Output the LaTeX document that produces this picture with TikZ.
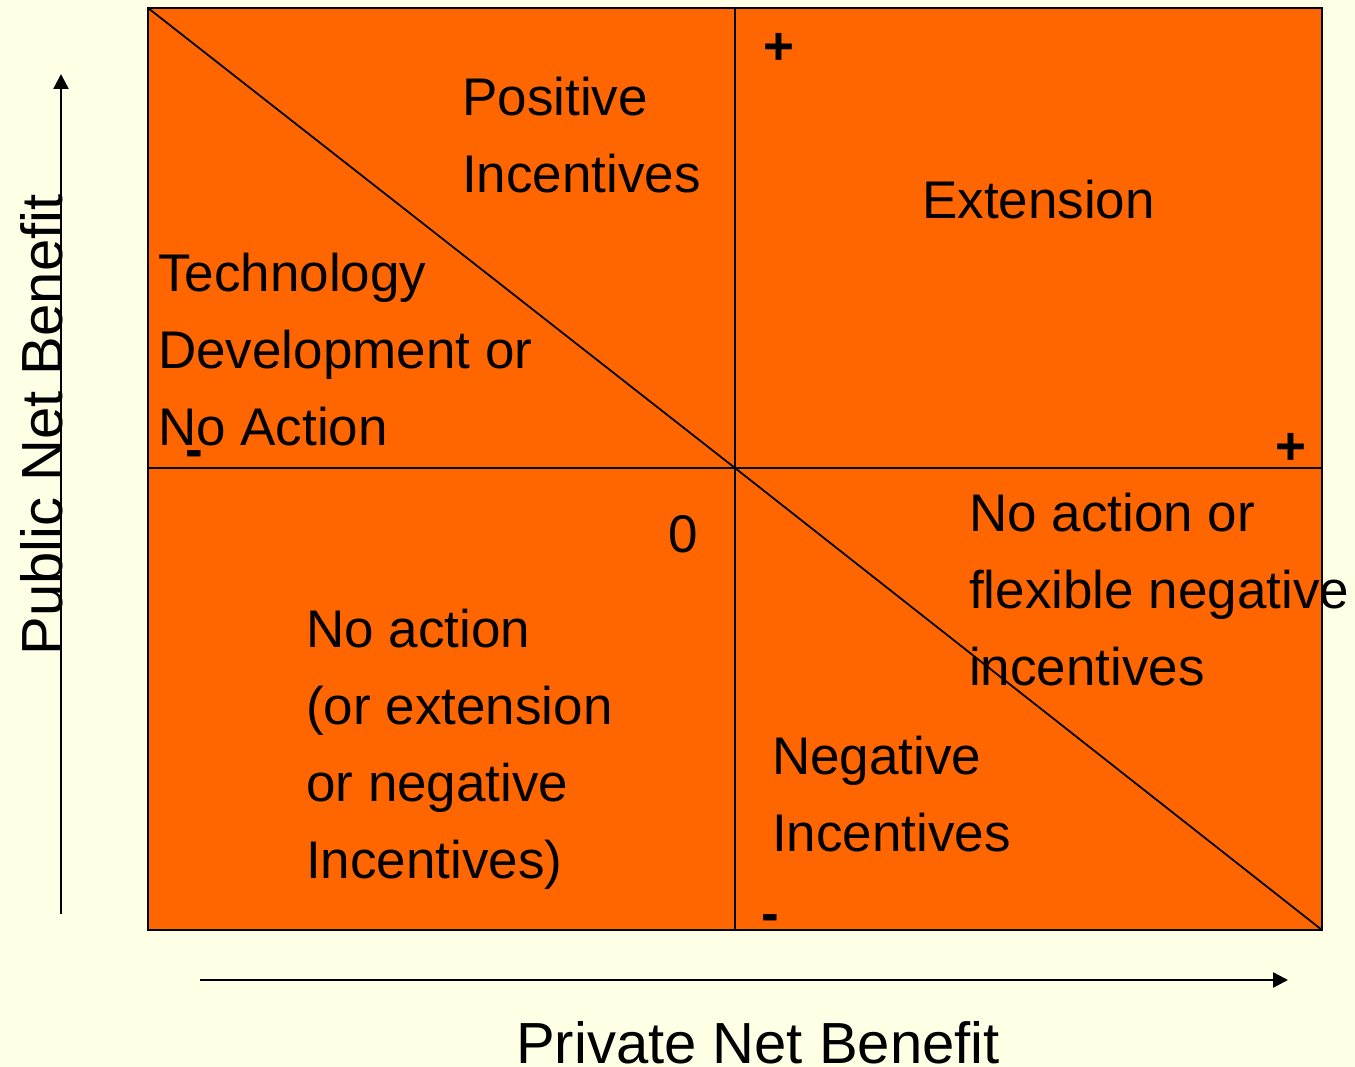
\documentclass[tikz,border=0pt]{standalone}
\usepackage{fontspec}
\setmainfont{Liberation Sans}
\usetikzlibrary{arrows.meta}
\definecolor{paper}{RGB}{255,255,229}
\definecolor{quad}{RGB}{255,102,0}
\begin{document}
\begin{tikzpicture}[x=1pt,y=-1pt,
  lbl/.style={inner sep=0pt, anchor=base west, align=left, font=\fontsize{53}{77}\selectfont},
  sign/.style={lbl, font=\fontsize{53}{77}\selectfont\bfseries},
  axislbl/.style={inner sep=0pt, anchor=base, font=\fontsize{58}{70}\selectfont},
  axisline/.style={line width=2.5pt, -{Triangle[length=15pt,width=15pt]}},
  rule/.style={line width=2.4pt},
  diag/.style={line width=1.8pt}]
% page
\fill[paper] (0,0) rectangle (1355,1067);
\useasboundingbox (0,0) rectangle (1355,1067);
% grid corners
\coordinate (tl) at (148,8);
\coordinate (br) at (1322,930);
\coordinate (o) at (735,468);
\coordinate (tm) at (735,8);
\coordinate (bm) at (735,930);
\coordinate (ml) at (148,468);
\coordinate (mr) at (1322,468);
% quadrants
\filldraw[fill=quad, draw=black, rule] (tl) rectangle (br);
\draw[rule] (tm) -- (bm);
\draw[rule] (ml) -- (mr);
\draw[diag] (tl) -- (o) -- (br);
% axes
\coordinate (ys) at (61,914);
\coordinate (ye) at (61,74);
\coordinate (xs) at (200,980);
\coordinate (xe) at (1288,980);
\draw[axisline] (ys) -- (ye);
\draw[axisline] (xs) -- (xe);
\node[axislbl, rotate=90] (ylab) at (62,425) {Public Net Benefit};
\node[axislbl] (xlab) at (758,1063) {Private Net Benefit};
% quadrant texts (anchored at the baseline of their last line)
\node[lbl] (pos) at (462,193) {Positive\\Incentives};
\node[lbl] (ext) at (922,219) {Extension};
\node[lbl] (tech) at (158,445) {Technology\\Development or\\No Action};
\node[lbl] (noact) at (969,685) {No action or\\flexible negative\\incentives};
\node[lbl] (noext) at (306,878) {No action\\(or extension\\or negative\\Incentives)};
\node[lbl] (neg) at (772,851) {Negative\\Incentives};
% signs
\node[sign] (plustop) at (763,65) {+};
\node[sign] (plusright) at (1275,464) {+};
\node[sign] (minusleft) at (185,467) {-};
\node[sign] (minusbottom) at (761,931) {-};
\node[lbl] (zero) at (668,552) {0};
\end{tikzpicture}
\end{document}
